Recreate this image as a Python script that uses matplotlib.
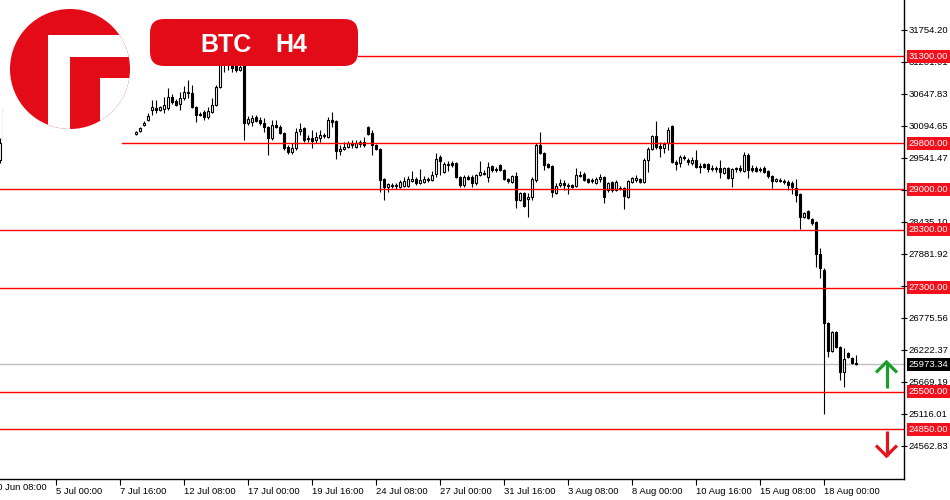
import numpy as np
import matplotlib
matplotlib.use("Agg")
import matplotlib.pyplot as plt
from matplotlib import transforms
from matplotlib.patches import Circle, Rectangle, FancyBboxPatch

# BTC H4 candles, 30 Jun 16:00 -> 21 Aug 04:00 (broker skips weekends)
bar_open = [
    29507, 29850, 30420, 30470, 30520, 30560, 30590, 30610, 30550, 30600,
    30720, 30950, 31210, 31050, 31090, 31120, 30900, 30800, 30700, 30650,
    30560, 30620, 30700, 30900, 30750, 30350, 30160, 30050, 29990, 30040,
    30100, 30060, 30010, 29980, 29956, 30008, 30112, 30198, 30371, 30406,
    30371, 30389, 30406, 30596, 30527, 30475, 30579, 30682, 30665, 30423,
    30302, 30337, 30250, 30337, 30458, 30769, 31495, 31236, 31270, 31132,
    31063, 31166, 30147, 30164, 30250, 30198, 30147, 30077, 29887, 30112,
    30077, 29974, 29732, 29645, 29714, 30008, 30060, 29870, 29887, 29853,
    29887, 29922, 29905, 30198, 30181, 29662, 29697, 29732, 29801, 29732,
    29784, 29818, 30077, 29974, 29766, 29697, 29178, 29040, 29075, 29057,
    29040, 29057, 29057, 29144, 29178, 29109, 29127, 29178, 29161, 29265,
    29559, 29299, 29420, 29455, 29455, 29213, 29075, 29213, 29213, 29109,
    29248, 29282, 29213, 29403, 29351, 29420, 29334, 29178, 29127, 29230,
    28815, 28936, 28833, 28867, 29161, 29766, 29628, 29438, 29403, 28936,
    29075, 29109, 29057, 29075, 29057, 29248, 29265, 29178, 29144, 29109,
    29178, 29213, 28988, 29127, 28988, 29023, 29023, 28867, 29127, 29161,
    29178, 29127, 29507, 29697, 29922, 29749, 29714, 29801, 30095, 29472,
    29455, 29559, 29507, 29455, 29507, 29403, 29438, 29438, 29369, 29351,
    29369, 29282, 29369, 29196, 29351, 29369, 29317, 29593, 29369, 29369,
    29351, 29369, 29317, 29230, 29144, 29161, 29144, 29127, 29109, 29023,
    28919, 28521, 28625, 28487, 28435, 27882, 27605, 26689, 26205, 26533,
    26274, 25842, 26171, 26084, 25998,
]
bar_high = [
    29887, 30480, 30590, 30560, 30620, 30650, 30700, 30680, 30640, 30750,
    31000, 31380, 31250, 31150, 31180, 31150, 30980, 30880, 30790, 30720,
    30680, 30740, 31000, 31020, 30800, 30420, 30250, 30120, 30080, 30150,
    30200, 30140, 30080, 30030, 30008, 30077, 30181, 30319, 30544, 30544,
    30440, 30596, 30752, 30648, 30561, 30682, 30786, 30890, 30803, 30440,
    30337, 30371, 30423, 30579, 30803, 31668, 31789, 31408, 31408, 31201,
    31201, 31236, 30268, 30285, 30285, 30250, 30233, 30095, 30198, 30198,
    30112, 29991, 29766, 29801, 30060, 30147, 30077, 29939, 30026, 29991,
    30026, 29974, 30250, 30337, 30198, 29766, 29818, 29835, 29853, 29853,
    29853, 29905, 30095, 30026, 29784, 29714, 29196, 29109, 29109, 29109,
    29161, 29213, 29230, 29317, 29213, 29351, 29230, 29213, 29317, 29628,
    29593, 29472, 29490, 29490, 29472, 29230, 29248, 29248, 29248, 29265,
    29490, 29334, 29472, 29420, 29386, 29438, 29351, 29196, 29248, 29299,
    28954, 28954, 28936, 29213, 29801, 29991, 29645, 29455, 29420, 29109,
    29178, 29161, 29109, 29092, 29369, 29317, 29299, 29196, 29196, 29213,
    29265, 29230, 29127, 29144, 29161, 29057, 29040, 29161, 29213, 29248,
    29196, 29542, 29732, 29939, 30181, 29818, 29818, 30077, 30112, 29507,
    29593, 29593, 29542, 29559, 29680, 29455, 29455, 29455, 29420, 29403,
    29507, 29386, 29386, 29369, 29386, 29420, 29645, 29628, 29420, 29403,
    29386, 29403, 29334, 29248, 29196, 29196, 29178, 29161, 29144, 29178,
    28936, 28608, 28643, 28504, 28452, 27986, 27640, 26706, 26551, 26551,
    26291, 26257, 26188, 26101, 26136,
]
bar_low = [
    29455, 29840, 30380, 30400, 30450, 30480, 30520, 30500, 30460, 30560,
    30690, 30900, 30980, 30940, 30990, 30850, 30750, 30620, 30580, 30500,
    30520, 30560, 30650, 30700, 30300, 30100, 29960, 29880, 29900, 29950,
    30000, 29960, 29940, 29940, 29939, 29991, 30095, 30181, 30285, 30319,
    30354, 30319, 30371, 30475, 30440, 30371, 30544, 30579, 30406, 30164,
    30268, 30198, 30216, 30319, 30440, 30752, 31028, 31063, 31028, 31028,
    31045, 29853, 30112, 30095, 30164, 30112, 29991, 29593, 29853, 30060,
    29956, 29680, 29611, 29611, 29680, 29939, 29818, 29818, 29714, 29801,
    29818, 29887, 29887, 30077, 29524, 29593, 29680, 29714, 29714, 29714,
    29732, 29732, 29939, 29593, 29680, 28954, 28815, 28954, 29023, 29006,
    29023, 29040, 29040, 29127, 29075, 29092, 29109, 29127, 29144, 29213,
    29248, 29282, 29317, 29386, 29196, 29040, 29040, 29161, 29040, 29075,
    29230, 29248, 29127, 29299, 29299, 29317, 29161, 29109, 29109, 28677,
    28798, 28694, 28521, 28815, 29127, 29611, 29334, 29369, 28867, 28919,
    29040, 28988, 28919, 29023, 29040, 29213, 29144, 29109, 29109, 29092,
    29127, 28764, 28954, 28954, 28971, 28988, 28660, 28850, 29109, 29127,
    29109, 29109, 29299, 29680, 29697, 29559, 29628, 29680, 29455, 29334,
    29386, 29507, 29420, 29420, 29369, 29282, 29369, 29299, 29317, 29299,
    29196, 29265, 29178, 29040, 29299, 29299, 29299, 29196, 29299, 29299,
    29299, 29282, 29196, 29023, 29127, 29127, 29092, 28988, 28919, 28781,
    28314, 28504, 28487, 28383, 27657, 27467, 25116, 26101, 26188, 26257,
    25704, 25583, 26084, 25981, 25963,
]
bar_close = [
    29801, 30420, 30470, 30520, 30560, 30590, 30610, 30550, 30600, 30720,
    30950, 31210, 31050, 31090, 31120, 30900, 30800, 30700, 30650, 30560,
    30620, 30700, 30900, 30750, 30350, 30160, 30050, 29990, 30040, 30100,
    30060, 30010, 29980, 29960, 29991, 30060, 30147, 30268, 30423, 30371,
    30423, 30458, 30596, 30510, 30458, 30579, 30682, 30665, 30423, 30285,
    30285, 30250, 30354, 30458, 30769, 31495, 31236, 31322, 31097, 31063,
    31115, 30147, 30216, 30233, 30181, 30147, 30077, 29887, 30112, 30077,
    29974, 29714, 29645, 29714, 29991, 30043, 29853, 29887, 29835, 29905,
    29939, 29939, 30198, 30164, 29662, 29697, 29732, 29801, 29766, 29801,
    29818, 29766, 29956, 29766, 29697, 29161, 29040, 29092, 29057, 29075,
    29127, 29144, 29178, 29178, 29109, 29161, 29178, 29161, 29248, 29524,
    29490, 29438, 29438, 29420, 29213, 29075, 29213, 29178, 29109, 29248,
    29299, 29265, 29386, 29334, 29334, 29334, 29178, 29144, 29230, 28815,
    28936, 28712, 28867, 29178, 29766, 29628, 29420, 29386, 28954, 29057,
    29109, 29075, 29075, 29040, 29248, 29230, 29161, 29127, 29161, 29178,
    29213, 28867, 29109, 28988, 29127, 29006, 28885, 29144, 29196, 29196,
    29127, 29507, 29697, 29922, 29732, 29714, 29784, 30026, 29472, 29438,
    29559, 29542, 29472, 29507, 29386, 29386, 29386, 29351, 29351, 29369,
    29299, 29369, 29196, 29351, 29369, 29334, 29593, 29334, 29334, 29317,
    29334, 29299, 29230, 29144, 29178, 29144, 29127, 29075, 29040, 28902,
    28521, 28591, 28504, 28418, 27882, 27640, 26689, 26205, 26533, 26274,
    25842, 26067, 26101, 25998, 25973.34,
]

levels = [31300.00, 29800.00, 29000.00, 28300.00, 27300.00, 25500.00, 24850.00]
last_price = 25973.34

price_ticks = [24562.83, 25116.01, 25669.19, 26222.37, 26775.56, 27328.74,
               27881.92, 28435.10, 28988.28, 29541.47, 30094.65, 30647.83,
               31201.01, 31754.20]

date_ticks = [-2, 14, 30, 46, 62, 78, 94, 110, 126, 142, 158, 174, 190, 206]
date_labels = ["30 Jun 08:00", "5 Jul 00:00", "7 Jul 16:00", "12 Jul 08:00",
               "17 Jul 00:00", "19 Jul 16:00", "24 Jul 08:00", "27 Jul 00:00",
               "31 Jul 16:00", "3 Aug 08:00", "8 Aug 00:00", "10 Aug 16:00",
               "15 Aug 08:00", "18 Aug 00:00"]

RED = "#e30b17"
LINE_RED = "#ff0000"
BOX_RED = "#f2101c"

plt.rcParams["font.family"] = ["Liberation Sans", "DejaVu Sans"]

fig = plt.figure(figsize=(9.5, 5), dpi=100)
fig.patch.set_facecolor("white")
AX_W, AX_H = 904, 479
ax = fig.add_axes([0, 21 / 500, AX_W / 950, AX_H / 500])

ymin, ymax = 23992.3, 32272.8
ax.set_xlim(-0.075, 225.925)
ax.set_ylim(ymin, ymax)

# candles
o = np.array(bar_open, dtype=float)
h = np.array(bar_high, dtype=float)
l = np.array(bar_low, dtype=float)
c = np.array(bar_close, dtype=float)
idx = np.arange(len(c))
up = c >= o
body_lo = np.minimum(o, c)
body_h = np.abs(c - o)

ax.vlines(idx, l, h, color="black", lw=0.8, zorder=2)
ax.bar(idx[up], body_h[up], bottom=body_lo[up], width=0.55,
       facecolor="white", edgecolor="black", lw=0.8, zorder=3)
ax.bar(idx[~up], body_h[~up], bottom=body_lo[~up], width=0.55,
       facecolor="black", edgecolor="black", lw=0.8, zorder=3)

# horizontal levels (some start to the right of the logo / title box)
line_start_px = {31300.00: 358, 29800.00: 122}
ax.axhline(last_price, color="#c0c0c0", lw=1, zorder=1)
for lv in levels:
    ax.axhline(lv, xmin=line_start_px.get(lv, 0) / AX_W, color=LINE_RED, lw=1, zorder=4)

# axes styling
for side in ("top", "left"):
    ax.spines[side].set_visible(False)
for side in ("right", "bottom"):
    ax.spines[side].set_linewidth(1)
    ax.spines[side].set_color("black")

ax.yaxis.tick_right()
ax.set_yticks(price_ticks)
ax.set_yticklabels([f"{v:.2f}" for v in price_ticks])
ax.tick_params(axis="y", direction="inout", length=4, width=0.8, pad=1.5,
               labelsize=6.8, colors="black")

ax.set_xticks(date_ticks[1:])
ax.set_xticklabels(date_labels[1:], ha="left")
ax.tick_params(axis="x", direction="out", length=4, width=0.8, pad=2,
               labelsize=6.8, colors="black")
# first label sits left of the window, only its tail shows
ax.annotate(date_labels[0], xy=(date_ticks[0], 0), xycoords=("data", "axes fraction"),
            xytext=(0, -3), textcoords="offset points", ha="left", va="top",
            fontsize=6.8, annotation_clip=False)

# price label boxes on the right axis
px = (ymax - ymin) / AX_H
trans = transforms.blended_transform_factory(fig.transFigure, ax.transData)


def price_box(val, face):
    ax.add_patch(Rectangle((907 / 950, val - 6.5 * px), 43 / 950, 13 * px,
                           transform=trans, facecolor=face, edgecolor="none",
                           clip_on=False, zorder=6))
    ax.text(928.5 / 950, val, f"{val:.2f}", transform=trans, ha="center",
            va="center", color="white", fontsize=6.8, clip_on=False, zorder=7)


for lv in levels:
    price_box(lv, BOX_RED)
price_box(last_price, "black")

# overlay in pixel coordinates for logo, title and arrows
ov = fig.add_axes([0, 0, 1, 1], zorder=5)
ov.set_xlim(0, 950)
ov.set_ylim(500, 0)
ov.axis("off")

ov.add_patch(Rectangle((2.5, 0), 131.5, 141.5, facecolor="white", edgecolor="none"))
circ = Circle((70, 69), 60, facecolor=RED, edgecolor="none")
ov.add_patch(circ)
for (x0, y0, w, hh) in [(48, 35, 22, 100), (48, 35, 90, 22), (100, 78, 40, 60)]:
    r = Rectangle((x0, y0), w, hh, facecolor="white", edgecolor="none")
    ov.add_patch(r)
    r.set_clip_path(circ)

ov.add_patch(FancyBboxPatch((150, 19), 208, 47,
                            boxstyle="round,pad=0,rounding_size=14",
                            facecolor=RED, edgecolor="none"))
ov.text(200, 52, "BTC", color="white", fontsize=18, fontweight="bold",
        ha="left", va="baseline")
ov.text(275, 52, "H4", color="white", fontsize=18, fontweight="bold",
        ha="left", va="baseline")

GREEN = "#1a9e2c"
ov.plot([886.5, 886.5], [362, 388], color=GREEN, lw=2.3, solid_capstyle="butt")
ov.plot([876, 886.5, 897], [372.5, 362, 372.5], color=GREEN, lw=2.3,
        solid_joinstyle="miter", solid_capstyle="butt")
ov.plot([886.5, 886.5], [431, 456], color="#e3141e", lw=2.3, solid_capstyle="butt")
ov.plot([876, 886.5, 897], [445.5, 456, 445.5], color="#e3141e", lw=2.3,
        solid_joinstyle="miter", solid_capstyle="butt")

fig.savefig("out.png", dpi=100)
